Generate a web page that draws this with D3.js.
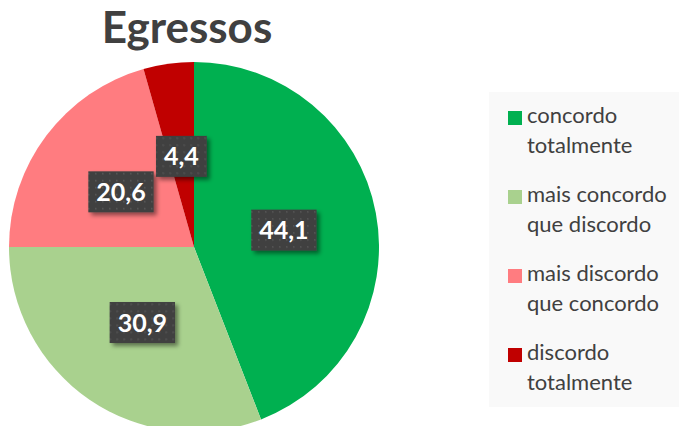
<!DOCTYPE html>
<html><head><meta charset="utf-8">
<script src="https://cdn.jsdelivr.net/npm/d3@7"></script>
<style>html,body{margin:0;padding:0;background:#fff;overflow:hidden}</style>
</head><body>
<svg id="c" width="679" height="426"></svg>
<script>
const categories = ["concordo totalmente", "mais concordo que discordo", "mais discordo que concordo", "discordo totalmente"];
const legendLines = [["concordo", "totalmente"], ["mais concordo", "que discordo"], ["mais discordo", "que concordo"], ["discordo", "totalmente"]];
const values = [44.1, 30.9, 20.6, 4.4];
const labels = ["44,1", "30,9", "20,6", "4,4"];
const colors = ["#00B050", "#A9D18E", "#FF7C80", "#C00000"];
const title = "Egressos";

const svg = d3.select("#c");
const cx = 194, cy = 247, R = 185;
const font = "Lato, 'Open Sans', sans-serif";

const defs = svg.append("defs");
const f = defs.append("filter").attr("id", "sh").attr("x", "-30%").attr("y", "-30%").attr("width", "160%").attr("height", "160%");
f.append("feDropShadow").attr("dx", 3).attr("dy", 3).attr("stdDeviation", 2.2).attr("flood-color", "#000").attr("flood-opacity", 0.45);
const pat = defs.append("pattern").attr("id", "dots").attr("patternUnits", "userSpaceOnUse").attr("width", 7).attr("height", 7);
pat.append("rect").attr("width", 7).attr("height", 7).attr("fill", "#404040");
pat.append("rect").attr("x", 2).attr("y", 2).attr("width", 1.6).attr("height", 1.6).attr("fill", "#555");

// title
svg.append("text").attr("x", 187).attr("y", 43).attr("text-anchor", "middle")
  .attr("font-family", font).attr("font-weight", "bold").attr("font-size", 44)
  .attr("fill", "#404040").text(title);

const pie = d3.pie().sort(null).value(d => d)(values);
const arc = d3.arc().innerRadius(0).outerRadius(R);
const lab = d3.arc().innerRadius(0).outerRadius(183);
const g = svg.append("g").attr("transform", `translate(${cx},${cy})`);
g.selectAll("path").data(pie).join("path").attr("d", arc).attr("fill", (d, i) => colors[i]);

// labels
const lg = g.selectAll("g.lab").data(pie).join("g").attr("class", "lab")
  .attr("transform", d => `translate(${lab.centroid(d)})`);
lg.each(function(d, i) {
  const s = d3.select(this);
  const t = s.append("text").attr("text-anchor", "middle").attr("dy", "0.36em")
    .attr("font-family", font).attr("font-weight", "bold").attr("font-size", 25)
    .attr("fill", "#fff").text(labels[i]);
  const w = t.node().getComputedTextLength() + 16;
  s.insert("rect", "text").attr("x", -w / 2).attr("y", -20.5).attr("width", w).attr("height", 41)
    .attr("fill", "url(#dots)").attr("filter", "url(#sh)");
});

// legend
svg.append("rect").attr("x", 489).attr("y", 92).attr("width", 190).attr("height", 315).attr("fill", "#f9f9f9");
const leg = svg.append("g");
categories.forEach((c, i) => {
  const y0 = 123 + i * 79;
  leg.append("rect").attr("x", 508).attr("y", y0 - 12).attr("width", 14).attr("height", 14).attr("fill", colors[i]);
  const t = leg.append("text").attr("font-family", font).attr("font-size", 22).attr("fill", "#404040");
  legendLines[i].forEach((ln, j) => {
    t.append("tspan").attr("x", 527).attr("y", y0 + j * 30).text(ln);
  });
});
</script>
</body></html>
